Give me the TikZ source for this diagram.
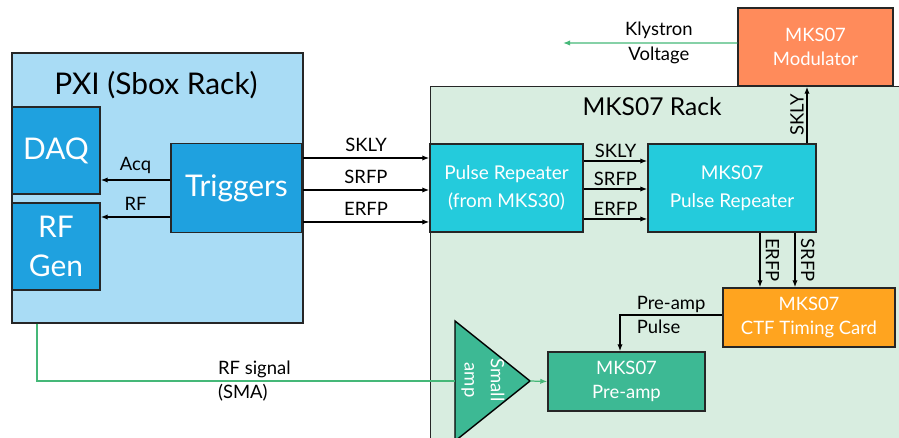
\documentclass[tikz,border=0pt]{standalone}
\usepackage{fontspec}
\setmainfont{Lato}
\usepackage{tikz}
\usetikzlibrary{arrows.meta}
\usepackage{xcolor}

\definecolor{pxiblue}{HTML}{A9DCF5}
\definecolor{devblue}{HTML}{1FA1DF}
\definecolor{repcyan}{HTML}{24CBDC}
\definecolor{rackgreen}{HTML}{D8EDE0}
\definecolor{modorange}{HTML}{FF8B5B}
\definecolor{ctforange}{HTML}{FFA41F}
\definecolor{preteal}{HTML}{3DB994}
\definecolor{rfgreen}{HTML}{45B878}

\newcommand{\smallfont}{\fontsize{10.5}{14}\selectfont}
\newcommand{\bigfont}{\fontsize{17}{22}\selectfont}
\newcommand{\rackfont}{\fontsize{14}{17}\selectfont}

\tikzset{
    box/.style={draw=black!85, line width=0.8pt, text=white, align=center, font=\smallfont},
    sig/.style={-{Latex[length=4pt,width=3pt]}, line width=0.7pt},
    lbl/.style={font=\smallfont, inner sep=1.5pt},
}

\begin{document}
\begin{tikzpicture}[x=0.02cm, y=-0.02cm]
                \clip (0,0) rectangle (899,438);
                % PXI side
                \node[box, fill=pxiblue, minimum width=5.82cm, minimum height=5.4cm] (pxi) at (157.5,188) {};
                \node[font=\bigfont] (pxititle) at (156,85) {PXI (Sbox Rack)};
                \node[box, fill=devblue, font=\bigfont, minimum width=1.76cm, minimum height=1.74cm] (daq) at (56,150.5) {DAQ};
                \node[box, fill=devblue, font=\bigfont, minimum width=1.76cm, minimum height=1.74cm] (rfgen) at (56,246.5) {RF\\Gen};
                \node[box, fill=devblue, font=\bigfont, minimum width=2.62cm, minimum height=1.78cm] (trig) at (236.5,188) {Triggers};

                % MKS07 side
                \node[box, fill=rackgreen, minimum width=9.6cm, minimum height=7.3cm, anchor=north west] (rack) at (430,86) {};
                \node[font=\rackfont] (racktitle) at (652,107) {MKS07 Rack};
                \node[box, fill=modorange, minimum width=3.1cm, minimum height=1.56cm] (mod) at (815.5,47) {MKS07\\Modulator};
                \node[box, fill=repcyan, minimum width=3.06cm, minimum height=1.76cm, font=\fontsize{10.8}{16}\selectfont] (pr1) at (506.5,188) {Pulse Repeater\\(from MKS30)};
                \node[box, fill=repcyan, minimum width=3.36cm, minimum height=1.76cm, font=\fontsize{10.8}{16}\selectfont] (pr2) at (732,188) {MKS07\\Pulse Repeater};
                \node[box, fill=ctforange, minimum width=3.44cm, minimum height=1.18cm] (ctf) at (809,317.5) {MKS07\\CTF Timing Card};
                \node[box, fill=preteal, minimum width=3.14cm, minimum height=1.18cm] (preamp) at (626.5,381.5) {MKS07\\Pre-amp};
                \filldraw[fill=preteal, line width=0.8pt] (455,321) coordinate (amptop) -- (530,381) coordinate (amptip) -- (455,441) -- cycle;
                \coordinate (ampin) at (455,381);
                \node[rotate=-90, text=white, font=\fontsize{10.5}{15}\selectfont, align=center] (amptext) at (483,380) {Small\\amp};

                % trigger lines
                \draw[sig] ([yshift=0.16cm]trig.west) coordinate (acqstart) -- node[lbl, above=2pt] {Acq} (daq.east |- acqstart);
                \draw[sig] ([yshift=-0.58cm]trig.west) coordinate (rfstart) -- node[lbl, above=2pt] {RF} (rfgen.east |- rfstart);
                \foreach \dy/\sig in {0.6/SKLY, -0.04/SRFP, -0.68/ERFP} {
                        \draw[sig] ([yshift=\dy cm]trig.east) -- node[lbl, above=2pt] {\sig} ([yshift=\dy cm]pr1.west);
                    }
                \foreach \dy/\sig in {0.54/SKLY, -0.02/SRFP, -0.62/ERFP} {
                        \draw[sig] ([yshift=\dy cm]pr1.east) -- node[lbl, above] {\sig} ([yshift=\dy cm]pr2.west);
                    }
                \draw[sig] ([xshift=1.5cm]pr2.north) coordinate (sklyup) -- node[lbl, anchor=south, rotate=90] {SKLY} (mod.south -| sklyup);
                \draw[sig] ([xshift=0.56cm]pr2.south) coordinate (erfpdown) -- node[lbl, anchor=south, rotate=-90, inner sep=3pt] {ERFP} (ctf.north -| erfpdown);
                \draw[sig] ([xshift=1.26cm]pr2.south) coordinate (srfpdown) -- node[lbl, anchor=south, rotate=-90, inner sep=3pt] {SRFP} (ctf.north -| srfpdown);
                \draw[sig] ([yshift=0.05cm]ctf.west) -| node[pos=0.25, lbl, align=left] {Pre-amp\\Pulse} ([xshift=-0.13cm]preamp.north);

                % RF and klystron
                \coordinate (kvend) at (563,43);
                \draw[sig, rfgreen] ([yshift=0.08cm]mod.west) -- node[pos=0.45, lbl, align=center, text=black] {Klystron\\Voltage} (kvend);
                \draw[line width=0.7pt, rfgreen] ([xshift=-2.41cm]pxi.south) |- node[pos=0.76, lbl, align=left, text=black] {RF signal\\(SMA)} (ampin);
                \draw[sig, rfgreen] (amptip) -- (preamp.west);
            \end{tikzpicture}
\end{document}
